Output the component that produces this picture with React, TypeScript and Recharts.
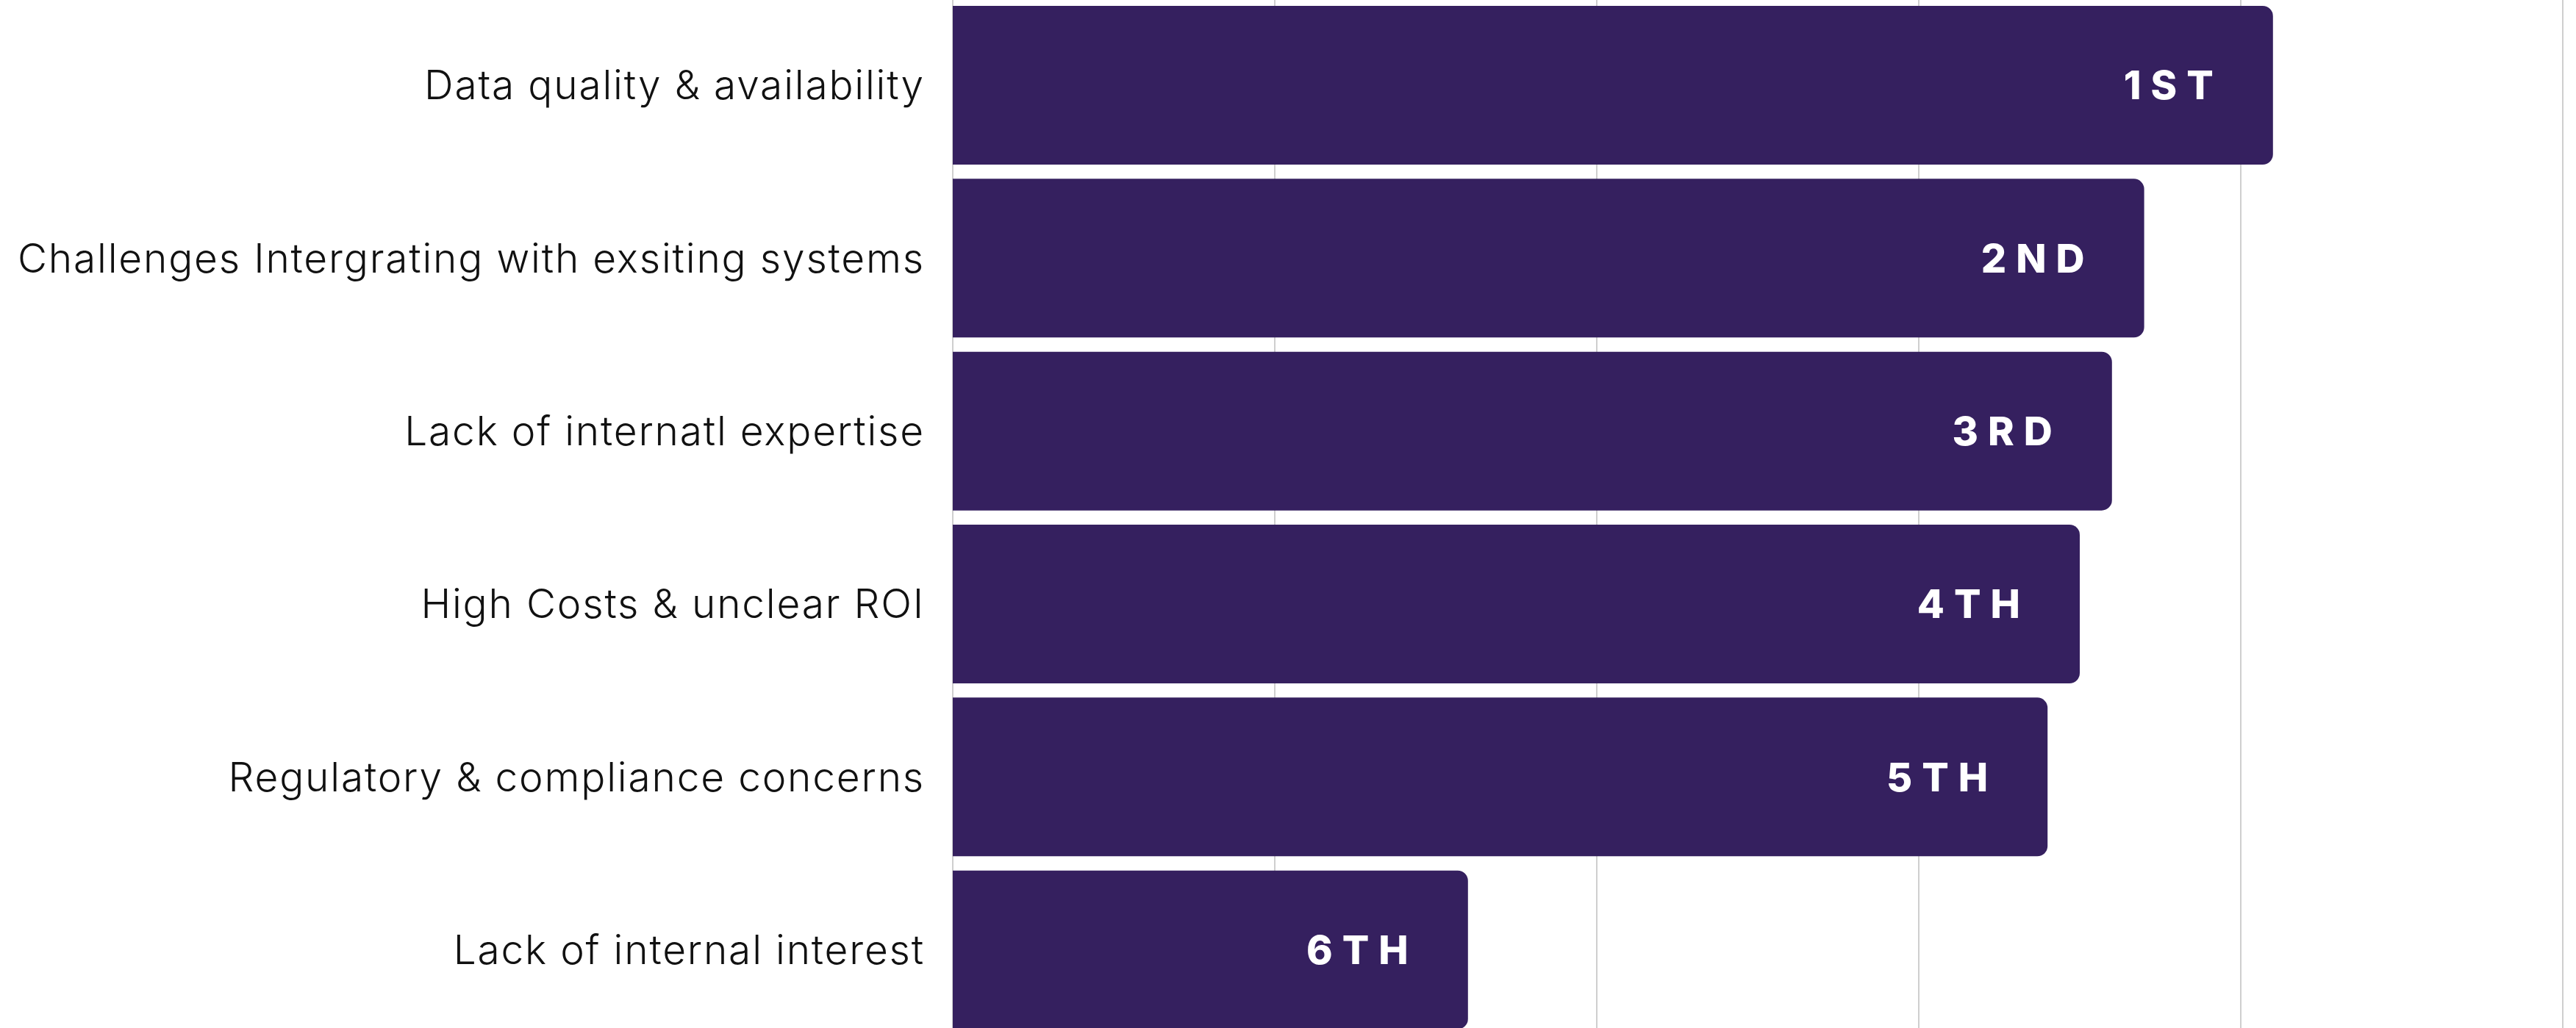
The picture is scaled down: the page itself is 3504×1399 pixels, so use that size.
import { BarChart, Bar, XAxis, YAxis, CartesianGrid, LabelList } from "recharts";

const categories = [
  "Data quality & availability",
  "Challenges Intergrating with exsiting systems",
  "Lack of internatl expertise",
  "High Costs & unclear ROI",
  "Regulatory & compliance concerns",
  "Lack of internal interest",
];
const scores = [4.1, 3.7, 3.6, 3.5, 3.4, 1.6];
const ranks = ["1ST", "2ND", "3RD", "4TH", "5TH", "6TH"];
const xTicks = [0, 1, 2, 3, 4, 5];

const data = categories.map((name, i) => ({ name, score: scores[i], rank: ranks[i] }));

export default function App() {
  return (
    <div style={{ position: "absolute", left: 0, top: -2, width: 3504, height: 1412, background: "#fff" }}>
      <BarChart
        width={3504}
        height={1412}
        data={data}
        layout="vertical"
        margin={{ top: 0, right: 18, bottom: 0, left: 0 }}
        barSize={216}
      >
        <CartesianGrid horizontal={false} stroke="#cfcfcf" strokeWidth={2} />
        <XAxis type="number" domain={[0, 5]} ticks={xTicks} hide />
        <YAxis
          type="category"
          dataKey="name"
          width={1296}
          axisLine={false}
          tickLine={false}
          tickMargin={32}
          tick={{ fontSize: 55, fill: "#111", fontFamily: "Inter", fontWeight: 300, letterSpacing: 1.8 }}
        />
        <Bar dataKey="score" fill="#35205f" radius={[0, 14, 14, 0]} isAnimationActive={false}>
          <LabelList
            dataKey="rank"
            position="insideRight"
            offset={68}
            fill="#fff"
            style={{ fontSize: 54, fontFamily: "Inter", fontWeight: 800, letterSpacing: 13 }}
          />
        </Bar>
      </BarChart>
    </div>
  );
}
